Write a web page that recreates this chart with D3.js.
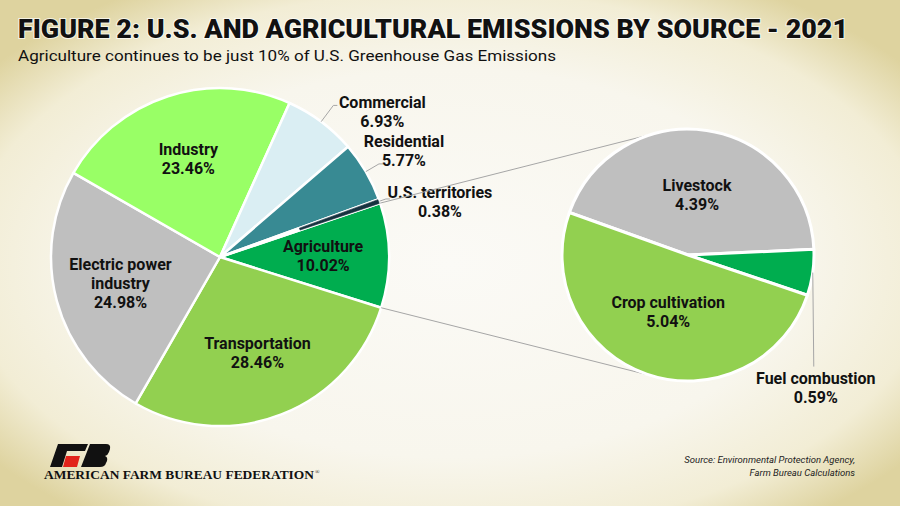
<!DOCTYPE html>
<html>
<head>
<meta charset="utf-8">
<script src="https://cdn.jsdelivr.net/npm/d3@7/dist/d3.min.js"></script>
<style>
  html, body { margin: 0; padding: 0; background: #f7f4e8; }
  svg { display: block; }
  .lbl { font-family: Roboto, "Liberation Sans", sans-serif; font-weight: 700; font-size: 16px; fill: #111; }
</style>
</head>
<body>
<svg id="chart" width="900" height="506"></svg>
<script>
// ---- data ----
const usCategories = ["Agriculture", "Transportation", "Electric power industry", "Industry",
                      "Commercial", "Residential", "U.S. territories"];
const usShares = [10.02, 28.46, 24.98, 23.46, 6.93, 5.77, 0.38];

const agCategories = ["Livestock", "Fuel combustion", "Crop cultivation"];
const agShares = [4.39, 0.59, 5.04];

const titleText = "FIGURE 2: U.S. AND AGRICULTURAL EMISSIONS BY SOURCE - 2021";
const subtitleText = "Agriculture continues to be just 10% of U.S. Greenhouse Gas Emissions";
const sourceLines = ["Source: Environmental Protection Agency,", "Farm Bureau Calculations"];
const logoText = "AMERICAN FARM BUREAU FEDERATION";

// ---- styles / layout ----
const usColor = d3.scaleOrdinal()
    .domain(usCategories)
    .range(["#00ad4f", "#92d050", "#bfbfbf", "#99ff66", "#daeef3", "#388a93", "#17323f"]);
const agColor = d3.scaleOrdinal()
    .domain(agCategories)
    .range(["#bfbfbf", "#00ad4f", "#92d050"]);

const wrap = { "Electric power industry": ["Electric power", "industry"] };
const outside = {
    "Commercial":       { len: 1.12, nudge: [49, 6] },
    "Residential":      { len: 1.09, nudge: [25, -13] },
    "U.S. territories": { len: 1.04, nudge: [54, 3] }
};
const lineH = 19;
const rad = d => d * Math.PI / 180;

const svg = d3.select("#chart");

// background: cream with tan vignette
const defs = svg.append("defs");
const bg = defs.append("radialGradient").attr("id", "bg")
    .attr("cx", "50%").attr("cy", "52%").attr("r", "64%");
bg.append("stop").attr("offset", "0").attr("stop-color", "#fbfaf6");
bg.append("stop").attr("offset", "0.6").attr("stop-color", "#f8f6ed");
bg.append("stop").attr("offset", "0.84").attr("stop-color", "#f2edd5");
bg.append("stop").attr("offset", "1").attr("stop-color", "#ded39f");
svg.append("rect").attr("width", 900).attr("height", 506).attr("fill", "url(#bg)");

// title + subtitle
svg.append("text")
    .attr("x", 18).attr("y", 38)
    .attr("textLength", 830).attr("lengthAdjust", "spacingAndGlyphs")
    .style("font-family", "Roboto, 'Liberation Sans', sans-serif")
    .style("font-weight", 900).style("font-size", "25px")
    .style("paint-order", "stroke").style("stroke", "rgba(255,255,255,0.7)").style("stroke-width", 2)
    .attr("fill", "#111")
    .text(titleText);

svg.append("text")
    .attr("x", 18).attr("y", 61)
    .attr("textLength", 538).attr("lengthAdjust", "spacingAndGlyphs")
    .style("font-family", "Roboto, 'Liberation Sans', sans-serif")
    .style("font-size", "15.5px")
    .attr("fill", "#111")
    .text(subtitleText);

// ---- left pie: U.S. emissions ----
const usC = [220, 257], usR = 169;
const usStart = rad(71.4);
const usPie = d3.pie().sort(null).value(d => d.v)
    .startAngle(usStart).endAngle(usStart + 2 * Math.PI);
const usArcs = usPie(usCategories.map((k, i) => ({ k: k, v: usShares[i] })));

const arcUS = d3.arc().innerRadius(0).outerRadius(usR);
const labUS = d3.arc().innerRadius(usR * 0.61).outerRadius(usR * 0.61);

const gUS = svg.append("g").attr("transform", `translate(${usC[0]},${usC[1]})`);
gUS.selectAll("path.slice")
    .data(usArcs)
    .enter().append("path")
    .attr("class", "slice")
    .attr("d", arcUS)
    .attr("fill", d => usColor(d.data.k))
    .attr("stroke", "#fff").attr("stroke-width", 2.5).attr("stroke-linejoin", "round");

// very thin slices disappear under the white separators, so draw their outer part again
const thinArc = d3.arc().innerRadius(usR * 0.5).outerRadius(usR - 1);
gUS.selectAll("path.thin")
    .data(usArcs.filter(d => d.endAngle - d.startAngle < rad(2)))
    .enter().append("path")
    .attr("class", "thin")
    .attr("d", thinArc)
    .attr("fill", d => usColor(d.data.k))
    .attr("stroke", d => usColor(d.data.k)).attr("stroke-width", 0.6);

function pointAt(a, r) { return [r * Math.sin(a), -r * Math.cos(a)]; }

function block(g, x, y, lines) {
    const t = g.append("text").attr("class", "lbl").attr("text-anchor", "middle");
    const y0 = y - (lines.length - 1) * lineH / 2;
    lines.forEach((s, i) => {
        t.append("tspan").attr("x", x).attr("y", y0 + i * lineH).attr("dy", "0.35em").text(s);
    });
    return t;
}

usArcs.forEach(d => {
    const name = d.data.k;
    const lines = (wrap[name] || [name]).concat([d.data.v.toFixed(2) + "%"]);
    const mid = (d.startAngle + d.endAngle) / 2;
    if (outside[name]) {
        const o = outside[name];
        const p0 = pointAt(mid, usR), p1 = pointAt(mid, usR * o.len);
        gUS.append("polyline")
            .attr("points", [p0, p1, [p1[0] + 4, p1[1]]].map(p => p.join(",")).join(" "))
            .attr("fill", "none").attr("stroke", "#a6a6a6").attr("stroke-width", 1);
        block(gUS, p1[0] + o.nudge[0], p1[1] + o.nudge[1], lines);
    } else {
        const c = labUS.centroid(d);
        block(gUS, c[0], c[1], lines);
    }
});

// ---- right pie: agriculture breakdown ----
const agC = [688, 255], agR = 126;
const agStart = rad(-70.3);
const agPie = d3.pie().sort(null).value(d => d.v)
    .startAngle(agStart).endAngle(agStart + 2 * Math.PI);
const agArcs = agPie(agCategories.map((k, i) => ({ k: k, v: agShares[i] })));
const arcAG = d3.arc().innerRadius(0).outerRadius(agR);
const labAG = d3.arc().innerRadius(agR * 0.48).outerRadius(agR * 0.48);

// connector lines: tangents from the agriculture slice edge to the second pie
const agSlice = usArcs[0];
function tangent(P, C, R, sign) {
    const dx = C[0] - P[0], dy = C[1] - P[1];
    const d = Math.hypot(dx, dy);
    const phi = Math.atan2(dy, dx) + sign * Math.asin(R / d);
    const L = Math.sqrt(d * d - R * R);
    return [P[0] + L * Math.cos(phi), P[1] + L * Math.sin(phi)];
}
const pTop = pointAt(agSlice.startAngle, usR), pBot = pointAt(agSlice.endAngle, usR);
const P1 = [usC[0] + pTop[0], usC[1] + pTop[1]];
const P2 = [usC[0] + pBot[0], usC[1] + pBot[1]];
[[P1, tangent(P1, agC, agR, -1)], [P2, tangent(P2, agC, agR, 1)]].forEach(seg => {
    svg.append("line")
        .attr("x1", seg[0][0]).attr("y1", seg[0][1])
        .attr("x2", seg[1][0]).attr("y2", seg[1][1])
        .attr("stroke", "#a6a6a6").attr("stroke-width", 1);
});

const gAG = svg.append("g").attr("transform", `translate(${agC[0]},${agC[1]})`);
gAG.selectAll("path.slice")
    .data(agArcs)
    .enter().append("path")
    .attr("class", "slice")
    .attr("d", arcAG)
    .attr("fill", d => agColor(d.data.k))
    .attr("stroke", "#fff").attr("stroke-width", 3).attr("stroke-linejoin", "round");

agArcs.forEach(d => {
    const name = d.data.k;
    const lines = [name, d.data.v.toFixed(2) + "%"];
    const mid = (d.startAngle + d.endAngle) / 2;
    if (name === "Fuel combustion") {
        const p0 = pointAt(mid, agR);
        const p1 = [p0[0] + 1, p0[1] + 94];
        gAG.append("line")
            .attr("x1", p0[0]).attr("y1", p0[1]).attr("x2", p1[0]).attr("y2", p1[1])
            .attr("stroke", "#a6a6a6").attr("stroke-width", 1);
        block(gAG, p1[0] + 2, p1[1] + 21, lines);
    } else {
        const c = labAG.centroid(d);
        block(gAG, c[0], c[1], lines);
    }
});

// ---- logo ----
const logo = svg.append("g");
logo.append("path")
    .attr("d", "M58,444 L88,444 L85,451 L67,451 L62,467 L50,467 Z")
    .attr("fill", "#111");
logo.append("path")
    .attr("d", "M66,456 L80,456 L77,467 L63,467 Z")
    .attr("fill", "#e2231a");
logo.append("path")
    .attr("d", "M90,444 L106,444 Q111,444 110,449 L109,452 Q108,455 105,456 Q108,457 107,461 L106,463 Q105,467 100,467 L81,467 Z")
    .attr("fill", "#111");
logo.append("text")
    .attr("x", 44).attr("y", 479)
    .attr("textLength", 270).attr("lengthAdjust", "spacingAndGlyphs")
    .style("font-family", "'Liberation Serif', 'DejaVu Serif', serif")
    .style("font-weight", 700).style("font-size", "12.5px")
    .attr("fill", "#111")
    .text(logoText);
logo.append("text")
    .attr("x", 315).attr("y", 474)
    .style("font-family", "'Liberation Serif', serif").style("font-size", "6px")
    .attr("fill", "#111").text("®");

// ---- source ----
svg.append("text")
    .attr("text-anchor", "end")
    .style("font-family", "Roboto, 'Liberation Sans', sans-serif")
    .style("font-style", "italic").style("font-size", "9.5px")
    .attr("fill", "#222")
    .selectAll("tspan")
    .data(sourceLines)
    .enter().append("tspan")
    .attr("x", 855)
    .attr("y", (d, i) => 463 + i * 12.5)
    .text(d => d);
</script>
</body>
</html>
